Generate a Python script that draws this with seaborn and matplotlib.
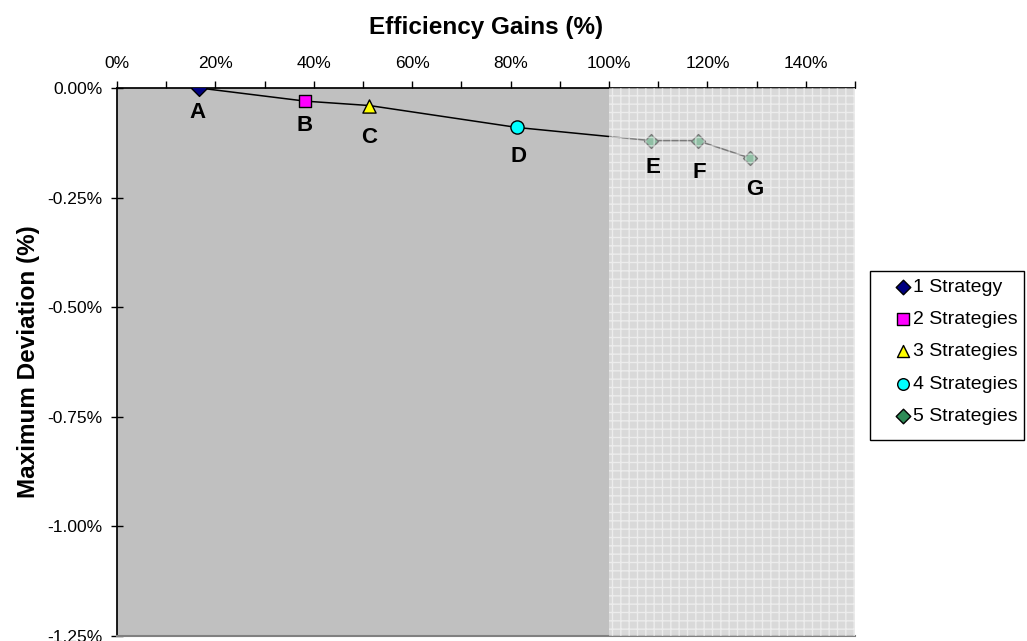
import matplotlib
matplotlib.use("Agg")
import matplotlib.pyplot as plt
import matplotlib.patches as mpatches
from matplotlib.ticker import FuncFormatter, MultipleLocator
import seaborn as sns
import pandas as pd

# Data: efficiency gain (%) vs maximum deviation (%) for each strategy mix
point_labels = ["A", "B", "C", "D", "E", "F", "G"]
efficiency_gain = [16.7, 38.3, 51.3, 81.3, 108.5, 118.0, 128.7]
max_deviation = [0.00, -0.03, -0.04, -0.09, -0.12, -0.12, -0.16]
strategy_group = ["1 Strategy", "2 Strategies", "3 Strategies", "4 Strategies",
                  "5 Strategies", "5 Strategies", "5 Strategies"]
group_names = ["1 Strategy", "2 Strategies", "3 Strategies", "4 Strategies", "5 Strategies"]
group_colors = ["#000080", "#FF00FF", "#FFFF00", "#00FFFF", "#2E8B57"]
group_markers = ["D", "s", "^", "o", "D"]
x_ticks = [0, 20, 40, 60, 80, 100, 120, 140]
y_ticks = [0.00, -0.25, -0.50, -0.75, -1.00, -1.25]

df = pd.DataFrame({"gain": efficiency_gain, "dev": max_deviation,
                   "group": strategy_group, "label": point_labels})

sns.set_theme(style="white")
plt.rcParams["font.family"] = ["Liberation Sans", "DejaVu Sans"]
plt.rcParams["text.color"] = "black"
plt.rcParams["axes.labelcolor"] = "black"
plt.rcParams["xtick.color"] = "black"
plt.rcParams["ytick.color"] = "black"

W, H = 1027, 641
fig = plt.figure(figsize=(W / 100, H / 100), dpi=100)
ax = fig.add_axes([117 / W, 1 - 636 / H, (855 - 117) / W, (636 - 88) / H])
ax.set_facecolor("#C0C0C0")

sns.lineplot(data=df, x="gain", y="dev", sort=False, color="black",
             linewidth=1.1, ax=ax, zorder=2, legend=False)

palette = dict(zip(group_names, group_colors))
markers = dict(zip(group_names, group_markers))
sizes = {"1 Strategy": 65, "2 Strategies": 85, "3 Strategies": 90,
         "4 Strategies": 90, "5 Strategies": 50}
for g in group_names:
    sub = df[df["group"] == g]
    sns.scatterplot(data=sub, x="gain", y="dev", color=palette[g], marker=markers[g],
                    s=sizes[g], edgecolor="black", linewidth=1.0, ax=ax,
                    zorder=3, label=g)

# Point labels (offsets in pixels below each point)
label_offsets = {"A": (-2, 24), "B": (-1, 24), "C": (0, 32), "D": (2, 29),
                 "E": (2, 27), "F": (2, 32), "G": (5, 31)}
px = 72 / 100
for lbl, gx, dy in zip(point_labels, efficiency_gain, max_deviation):
    ox, oy = label_offsets[lbl]
    ax.annotate(lbl, (gx, dy), xytext=(ox * px, -oy * px), textcoords="offset points",
                ha="center", va="center", fontsize=16, fontweight="bold", zorder=6)

# Region beyond 100% efficiency gain
ax.add_patch(mpatches.Rectangle((100, -1.25), 50, 1.25, facecolor="#F2F2F2",
                                alpha=0.5, edgecolor="none", zorder=4))
ax.add_patch(mpatches.Rectangle((100, -1.25), 50, 1.25, facecolor="none",
                                edgecolor="white", hatch="++", linewidth=0,
                                alpha=0.5, zorder=4))

ax.set_xlim(0, 150)
ax.set_ylim(-1.25, 0)
ax.xaxis.tick_top()
ax.xaxis.set_label_position("top")
ax.set_xticks(x_ticks)
ax.xaxis.set_minor_locator(MultipleLocator(10))
ax.set_yticks(y_ticks)
ax.xaxis.set_major_formatter(FuncFormatter(lambda v, p: f"{v:.0f}%"))
ax.yaxis.set_major_formatter(FuncFormatter(lambda v, p: f"{v:.2f}%"))
ax.tick_params(axis="x", which="both", top=True, bottom=False, direction="out",
               length=5, width=1, colors="black", labelsize=12.5, pad=7)
ax.tick_params(axis="x", which="minor", length=5)
ax.tick_params(axis="y", which="major", left=True, direction="inout", length=9,
               width=1, colors="black", labelsize=12.5, pad=6)

ax.spines["right"].set_visible(False)
ax.spines["left"].set_color("black")
ax.spines["top"].set_color("black")
ax.spines["bottom"].set_color("#808080")
ax.spines["bottom"].set_linewidth(1.5)

ax.set_xlabel("Efficiency Gains (%)", fontsize=17.5, fontweight="bold", labelpad=16)
ax.set_ylabel("Maximum Deviation (%)", fontsize=17.5, fontweight="bold", labelpad=5)

# Legend entries, with a separate box drawn behind them
leg = ax.legend(loc="upper left", bbox_to_anchor=(898 / W, 1 - 278 / H),
                bbox_transform=fig.transFigure, frameon=False,
                fontsize=14, labelspacing=0.76, handletextpad=0.28,
                handlelength=0.5, borderpad=0, borderaxespad=0)
legend_sizes = [55, 65, 75, 70, 55]
for h, sz in zip(leg.legend_handles, legend_sizes):
    h.set_sizes([sz])
fig.patches.append(mpatches.Rectangle((870 / W, 1 - 440 / H), (1024 - 870) / W,
                                      (440 - 271) / H, transform=fig.transFigure,
                                      facecolor="white", edgecolor="black",
                                      linewidth=1, zorder=-1))

fig.savefig("out.png", dpi=100)
